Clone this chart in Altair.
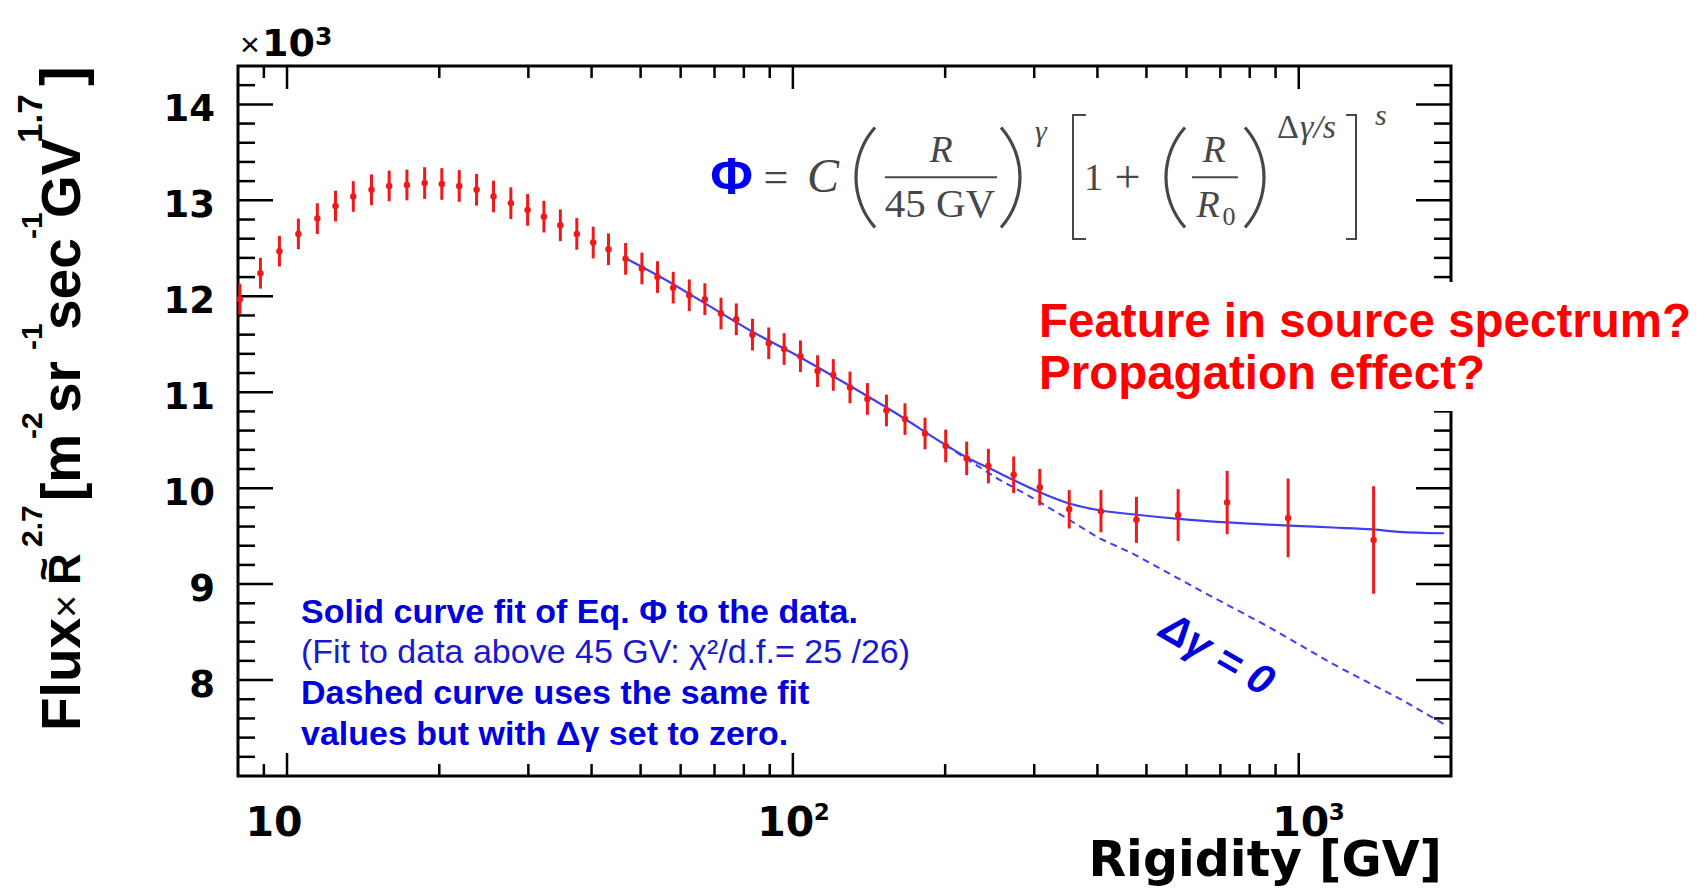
import altair as alt
import pandas as pd

W, H = 1213, 710
OX, OY = 238, 66  # page position of the plot area (8px page margin + padding)

# ---------------- data ----------------
rigidity = [8.07, 8.86, 9.66, 10.53, 11.48, 12.47, 13.52, 14.69, 15.92, 17.26,
            18.71, 20.23, 21.9, 23.7, 25.6, 27.7, 29.9, 32.2, 34.7, 37.4,
            40.3, 43.2, 46.7, 50.3, 54.0, 58.0, 62.4, 67.0, 72.1, 77.3,
            83.2, 89.6, 96.1, 103.5, 111.9, 120.2, 129.7, 140.4, 153.1, 166.6,
            182.5, 200.5, 220.6, 243.5, 273.2, 307.7, 351.8, 406.5, 477.7, 577.6,
            721.9, 953.0, 1406.0]
flux = [11.97, 12.24, 12.47, 12.65, 12.81, 12.94, 13.04, 13.11, 13.15, 13.16,
        13.18, 13.17, 13.15, 13.11, 13.04, 12.97, 12.90, 12.83, 12.74, 12.65,
        12.56, 12.49, 12.39, 12.29, 12.20, 12.09, 12.01, 11.97, 11.82, 11.76,
        11.60, 11.51, 11.45, 11.375, 11.22, 11.18, 11.05, 10.93, 10.81, 10.72,
        10.57, 10.44, 10.31, 10.23, 10.14, 10.01, 9.78, 9.76, 9.67, 9.72,
        9.85, 9.69, 9.46]
error = [0.16, 0.16, 0.16, 0.16, 0.16, 0.16, 0.16, 0.16, 0.16, 0.16,
         0.165, 0.165, 0.165, 0.165, 0.165, 0.165, 0.165, 0.165, 0.165, 0.165,
         0.165, 0.165, 0.165, 0.165, 0.165, 0.165, 0.165, 0.165, 0.165, 0.165,
         0.165, 0.165, 0.165, 0.165, 0.165, 0.165, 0.165, 0.165, 0.165, 0.165,
         0.165, 0.17, 0.175, 0.18, 0.19, 0.19, 0.20, 0.22, 0.24, 0.27,
         0.33, 0.41, 0.56]

fit_R = [46.2, 56.1, 68.3, 83.2, 102.9, 129.2, 162.2, 200.5, 222.6, 244.1,
         271.5, 306.8, 351.8, 403.6, 483.5, 579.4, 739.2, 957.5, 1165, 1406,
         1578, 1936]
fit_F = [12.41, 12.17, 11.90, 11.63, 11.37, 11.07, 10.76, 10.45, 10.31, 10.21,
         10.09, 9.96, 9.84, 9.77, 9.72, 9.68, 9.64, 9.61, 9.59, 9.57,
         9.545, 9.53]

dash_R = [200.5, 219.6, 255.7, 297.5, 351.8, 402.7, 469, 635.5, 860.9, 1165, 1578, 1936]
dash_F = [10.45, 10.31, 10.09, 9.90, 9.67, 9.48, 9.32, 8.94, 8.57, 8.17, 7.81, 7.54]

x_major = [10, 100, 1000]
x_minor = [9, 20, 30, 40, 50, 60, 70, 80, 90, 200, 300, 400, 500, 600, 700, 800, 900]
y_major = [8, 9, 10, 11, 12, 13, 14]
y_minor = [7.2, 7.4, 7.6, 7.8, 8.2, 8.4, 8.6, 8.8, 9.2, 9.4, 9.6, 9.8,
           10.2, 10.4, 10.6, 10.8, 11.2, 11.4, 11.6, 11.8, 12.2, 12.4, 12.6, 12.8,
           13.2, 13.4, 13.6, 13.8, 14.2]

x_label_base = ["10", "10", "10"]
x_label_sup = ["", "2", "3"]
y_labels = ["8", "9", "10", "11", "12", "13", "14"]

# ---------------- tables ----------------
pts = pd.DataFrame({"R": rigidity, "F": flux, "E": error})
pts["lo"] = pts["F"] - pts["E"]
pts["hi"] = pts["F"] + pts["E"]
fit = pd.DataFrame({"R": fit_R, "F": fit_F})
dash = pd.DataFrame({"R": dash_R, "F": dash_F})
ylab = pd.DataFrame({"F": y_major, "lab": y_labels})
one = pd.DataFrame({"k": [0]})

xs = alt.Scale(type="log", domain=[8, 2000], nice=False)
ys = alt.Scale(domain=[7, 14.4], nice=False, zero=False)

BLUE_LINE = "#3f3ff2"
RED = "#f01818"
GRAY = "#474747"
BLUE_TXT = "#0000dd"


def px(x):
    return x - OX


def py(y):
    return y - OY


def xticks(vals, length, top):
    df = pd.DataFrame({"R": vals})
    y1, y2 = (0, length) if top else (H, H - length)
    return alt.Chart(df).mark_rule(color="black", strokeWidth=2.5).encode(
        x=alt.X("R:Q", scale=xs, axis=None),
        y=alt.value(y1), y2=alt.value(y2))


def yticks(vals, length, right):
    df = pd.DataFrame({"F": vals})
    x1, x2 = (W - length, W) if right else (0, length)
    return alt.Chart(df).mark_rule(color="black", strokeWidth=2.5).encode(
        y=alt.Y("F:Q", scale=ys, axis=None),
        x=alt.value(x1), x2=alt.value(x2))


def txt(s, x, y, size, color="black", font="Liberation Sans", weight="normal",
        style="normal", align="left", angle=0, baseline="alphabetic"):
    return alt.Chart(one).mark_text(
        text=s, fontSize=size, font=font, fontWeight=weight, fontStyle=style,
        color=color, align=align, baseline=baseline, angle=angle
    ).encode(x=alt.value(px(x)), y=alt.value(py(y)))


def rule(x1, y1, x2, y2, color=GRAY, w=2.0):
    return alt.Chart(one).mark_rule(color=color, strokeWidth=w).encode(
        x=alt.value(px(x1)), x2=alt.value(px(x2)),
        y=alt.value(py(y1)), y2=alt.value(py(y2)))


def paren(cx, cy, r, left, half=0.726, w=3.2):
    mid = 4.712 if left else 1.5708
    return alt.Chart(one).mark_arc(
        color=GRAY, theta=mid - half, theta2=mid + half,
        radius=r + w / 2, radius2=r - w / 2
    ).encode(x=alt.value(px(cx)), y=alt.value(py(cy)))


layers = []

# ticks of the ROOT-style frame
layers += [xticks(x_major, 23, False), xticks(x_minor, 12, False),
           xticks(x_major, 23, True), xticks(x_minor, 12, True),
           yticks(y_major, 35, False), yticks(y_minor, 17, False),
           yticks(y_major, 35, True), yticks(y_minor, 17, True)]

# tick labels (through the scales); small per-label shifts as in the reference
label_dx = [-13, -7, 2]
for i in range(3):
    row = pd.DataFrame({"R": [x_major[i]], "base": [x_label_base[i]], "sup": [x_label_sup[i]]})
    layers.append(alt.Chart(row).mark_text(
        font="DejaVu Sans", fontWeight="bold", fontSize=41, align="center",
        baseline="alphabetic", dx=label_dx[i], color="black").encode(
        x=alt.X("R:Q", scale=xs, axis=None), y=alt.value(py(836)), text="base:N"))
    if x_label_sup[i]:
        layers.append(alt.Chart(row).mark_text(
            font="DejaVu Sans", fontWeight="bold", fontSize=23, align="left",
            baseline="alphabetic", dx=label_dx[i] + 28, color="black").encode(
            x=alt.X("R:Q", scale=xs, axis=None), y=alt.value(py(820)), text="sup:N"))
layers.append(alt.Chart(ylab).mark_text(
    font="DejaVu Sans", fontWeight="bold", fontSize=37, align="right",
    baseline="alphabetic", dy=17, color="black").encode(
    y=alt.Y("F:Q", scale=ys, axis=None), x=alt.value(-23), text="lab:N"))

# curves
layers.append(alt.Chart(dash).mark_line(color=BLUE_LINE, strokeWidth=2, strokeDash=[7, 5]).encode(
    x=alt.X("R:Q", scale=xs, axis=None), y=alt.Y("F:Q", scale=ys, axis=None)))
layers.append(alt.Chart(fit).mark_line(color=BLUE_LINE, strokeWidth=2.2, interpolate="monotone").encode(
    x=alt.X("R:Q", scale=xs, axis=None), y=alt.Y("F:Q", scale=ys, axis=None)))

# data points with error bars
layers.append(alt.Chart(pts).mark_rule(color=RED, strokeWidth=3).encode(
    x=alt.X("R:Q", scale=xs, axis=None),
    y=alt.Y("lo:Q", scale=ys, axis=None), y2="hi:Q"))
layers.append(alt.Chart(pts).mark_circle(color=RED, size=42, opacity=1).encode(
    x=alt.X("R:Q", scale=xs, axis=None), y=alt.Y("F:Q", scale=ys, axis=None)))

# white box behind the red question text (hides part of the frame)
layers.append(alt.Chart(one).mark_rect(color="white").encode(
    x=alt.value(px(1028)), x2=alt.value(px(1706)),
    y=alt.value(py(282)), y2=alt.value(py(411))))

# red question text
layers.append(txt("Feature in source spectrum?", 1039, 337, 47.5, color="#ff0000", weight="bold"))
layers.append(txt("Propagation effect?", 1039, 389, 47.5, color="#ff0000", weight="bold"))

# blue explanation text
layers.append(txt("Solid curve fit of Eq. Φ to the data.", 301, 623, 34, color=BLUE_TXT, weight="bold"))
layers.append(txt("(Fit to data above 45 GV: χ²/d.f.= 25 /26)", 301, 663, 34, color="#1a1acc"))
layers.append(txt("Dashed curve uses the same fit", 301, 704, 34, color=BLUE_TXT, weight="bold"))
layers.append(txt("values but with Δγ set to zero.", 301, 745, 34, color=BLUE_TXT, weight="bold"))

# rotated label along the dashed curve
layers.append(txt("Δγ  = 0", 1217, 655, 42, color=BLUE_TXT, weight="bold", style="italic",
                  align="center", angle=30, baseline="middle"))

# formula
SERIF = "Liberation Serif"
layers.append(txt("Φ", 731.5, 194, 52, color="#0000ee", weight="bold", align="center"))
layers.append(txt("=", 776, 192, 44, color=GRAY, font=SERIF, align="center"))
layers.append(txt("C", 823, 192, 48, color=GRAY, font=SERIF, style="italic", align="center"))
layers.append(paren(931.3, 177.5, 75.3, True))
layers.append(txt("R", 941, 162, 38, color=GRAY, font=SERIF, style="italic", align="center"))
layers.append(rule(885, 177.3, 997, 177.3))
layers.append(txt("45 GV", 940, 217, 41, color=GRAY, font=SERIF, align="center"))
layers.append(paren(944.7, 177.5, 75.3, False))
layers.append(txt("γ", 1041, 141, 30, color=GRAY, font=SERIF, style="italic", align="center"))
layers.append(rule(1073, 114, 1073, 240))
layers.append(rule(1072, 115, 1086, 115))
layers.append(rule(1072, 239, 1086, 239))
layers.append(txt("1", 1093.5, 190, 38, color=GRAY, font=SERIF, align="center"))
layers.append(txt("+", 1127.5, 192, 46, color=GRAY, font=SERIF, align="center"))
layers.append(paren(1241.3, 177.5, 75.3, True))
layers.append(txt("R", 1214, 162, 38, color=GRAY, font=SERIF, style="italic", align="center"))
layers.append(rule(1192, 177.3, 1238, 177.3))
layers.append(txt("R", 1208, 217, 38, color=GRAY, font=SERIF, style="italic", align="center"))
layers.append(txt("0", 1229, 225, 26, color=GRAY, font=SERIF, align="center"))
layers.append(paren(1188.7, 177.5, 75.3, False))
layers.append(txt("Δ", 1277, 138, 34, color=GRAY, font=SERIF))
layers.append(txt("γ/s", 1300, 138, 34, color=GRAY, font=SERIF, style="italic"))
layers.append(rule(1356, 114, 1356, 240))
layers.append(rule(1346, 115, 1357, 115))
layers.append(rule(1346, 239, 1357, 239))
layers.append(txt("s", 1375, 125, 30, color=GRAY, font=SERIF, style="italic"))

# axis decorations
layers.append(txt("×", 240, 56, 34))
layers.append(txt("10", 262, 56, 38, font="DejaVu Sans", weight="bold"))
layers.append(txt("3", 315, 45, 25, font="DejaVu Sans", weight="bold"))
layers.append(txt("Rigidity [GV]", 1442, 876, 49, font="DejaVu Sans", weight="bold", align="right"))

# rotated y-axis title, assembled piece by piece
MAIN_X, SUP_X = 80, 42
ytitle = [("Flux", 731, 55, MAIN_X, "bold"), ("×", 618, 40, MAIN_X, "normal"),
          ("R", 585, 44, MAIN_X, "bold"), ("2.7", 547, 30, SUP_X, "bold"),
          ("[m", 501, 55, MAIN_X, "bold"), ("-2", 439, 30, SUP_X, "bold"),
          ("sr", 413, 55, MAIN_X, "bold"), ("-1", 350, 30, SUP_X, "bold"),
          ("sec", 330, 55, MAIN_X, "bold"), ("-1", 239, 30, SUP_X, "bold"),
          ("GV", 218, 55, MAIN_X, "bold"), ("1.7", 143, 35, SUP_X, "bold"),
          ("]", 86, 60, MAIN_X + 2, "bold")]
for s, ystart, size, xb, wt in ytitle:
    layers.append(txt(s, xb, ystart, size, weight=wt, angle=270))
layers.append(txt("~", 57, 569, 40, weight="bold", angle=270, align="center"))

chart = alt.layer(*layers).properties(
    width=W, height=H,
    autosize=alt.AutoSizeParams(type="none"),
    padding={"left": OX - 8, "top": OY - 8, "right": 245, "bottom": 113},
    background="white",
).configure_view(stroke="black", strokeWidth=3)

chart.save("out.html", embed_options={"renderer": "svg", "actions": False})
